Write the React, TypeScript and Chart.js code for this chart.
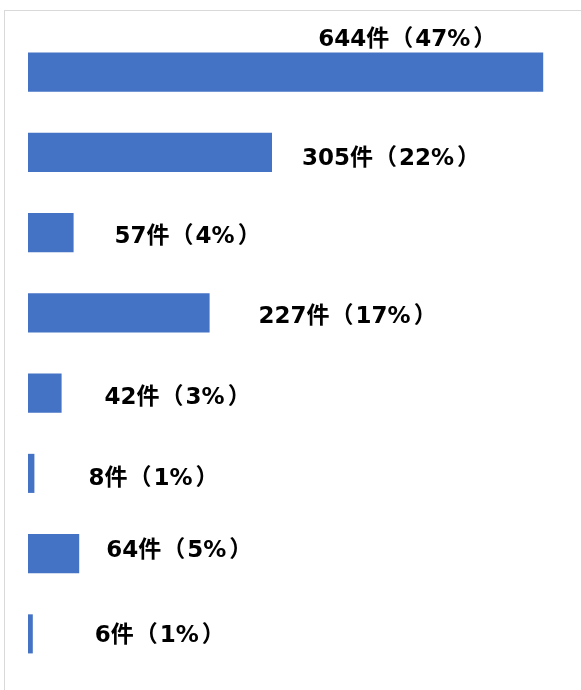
import React, { useEffect, useRef } from "react";
import { Chart, registerables } from "chart.js";

Chart.register(...registerables);

const categories = ["項目1", "項目2", "項目3", "項目4", "項目5", "項目6", "項目7", "項目8"];
const counts = [644, 305, 57, 227, 42, 8, 64, 6];
const percents = [47, 22, 4, 17, 3, 1, 5, 1];

// label placement relative to bar end (dx) and bar centre (dy)
const labelDx = [-225, 30, 41, 49, 43, 54, 27, 62];
const labelDy = [-34.5, 4, 2, 1.5, 3, 3.5, -5, 0];

const LATIN_FONT = "bold 23px 'DejaVu Sans', sans-serif";
const CJK_FONT = "bold 23px 'Noto Sans CJK JP', sans-serif";
const CELL = 26;

const labelPlugin = {
  id: "barLabels",
  afterDatasetsDraw(chart: any) {
    const ctx = chart.ctx;
    const meta = chart.getDatasetMeta(0);
    ctx.save();
    ctx.fillStyle = "#000000";
    ctx.textBaseline = "alphabetic";
    ctx.textAlign = "left";
    meta.data.forEach((bar: any, i: number) => {
      const text = `${counts[i]}件（${percents[i]}%）`;
      let x = bar.x + labelDx[i];
      const y = bar.y + labelDy[i] + 8.3;
      for (const ch of Array.from(text)) {
        if (ch === "（") {
          ctx.font = CJK_FONT;
          const m = ctx.measureText(ch);
          ctx.fillText(ch, x + CELL - 3 - m.actualBoundingBoxRight, y);
          x += CELL;
        } else if (ch === "）") {
          ctx.font = CJK_FONT;
          const m = ctx.measureText(ch);
          ctx.fillText(ch, x + 4 + m.actualBoundingBoxLeft, y);
          x += CELL;
        } else if (ch === "件") {
          ctx.font = CJK_FONT;
          ctx.fillText(ch, x, y);
          x += ctx.measureText(ch).width;
        } else {
          ctx.font = LATIN_FONT;
          ctx.fillText(ch, x, y);
          x += ctx.measureText(ch).width;
        }
      }
    });
    ctx.restore();
  },
};

export default function App() {
  const ref = useRef<HTMLCanvasElement | null>(null);
  useEffect(() => {
    if (!ref.current) return;
    const chart = new Chart(ref.current, {
      type: "bar",
      data: {
        labels: categories,
        datasets: [
          {
            data: counts,
            backgroundColor: "#4472C4",
            borderWidth: 0,
            barPercentage: 0.487,
            categoryPercentage: 1,
          },
        ],
      },
      options: {
        indexAxis: "y",
        animation: false,
        responsive: false,
        maintainAspectRatio: false,
        layout: { padding: { left: 28, right: 9, top: 32, bottom: 16 } },
        plugins: { legend: { display: false }, tooltip: { enabled: false } },
        scales: {
          x: { display: false, min: 0, max: 680 },
          y: { display: false },
        },
      },
      plugins: [labelPlugin],
    });
    return () => chart.destroy();
  }, []);
  return (
    <div style={{ position: "fixed", left: 0, top: 0, width: 581, height: 690, background: "#fff", overflow: "hidden" }}>
      <div
        style={{
          position: "absolute",
          left: 4,
          top: 10,
          width: 620,
          height: 720,
          border: "1px solid #d9d9d9",
          boxSizing: "border-box",
        }}
      />
      <canvas ref={ref} width={581} height={690} style={{ position: "absolute", left: 0, top: 0, display: "block" }} />
    </div>
  );
}
